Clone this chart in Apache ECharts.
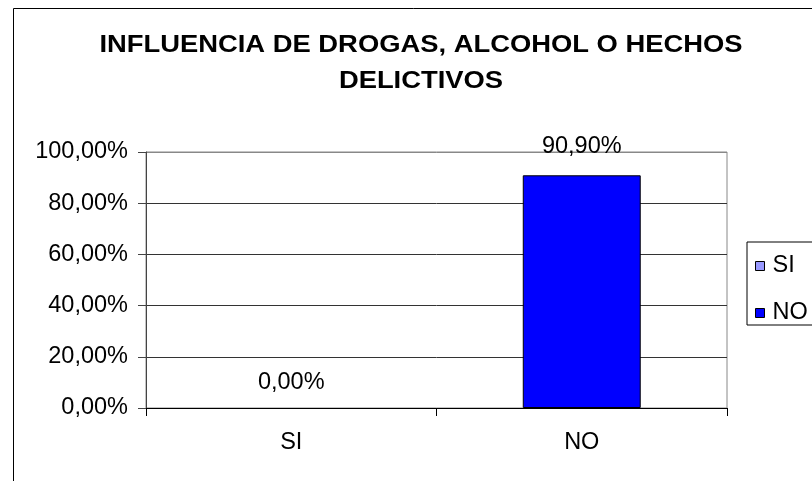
<!DOCTYPE html>
<html>
<head>
<meta charset="utf-8">
<script src="https://cdn.jsdelivr.net/npm/echarts@6/dist/echarts.min.js"></script>
<style>html,body{margin:0;padding:0;background:#fff;}#c{width:812px;height:481px;}</style>
</head>
<body>
<div id="c"></div>
<script>
const titleText = 'INFLUENCIA DE DROGAS, ALCOHOL O HECHOS\nDELICTIVOS';
const categories = ['SI', 'NO'];
const seriesNames = ['SI', 'NO'];
const siValues = [0, '-'];
const noValues = ['-', 0.909];
const yTicks = [0, 0.2, 0.4, 0.6, 0.8, 1.0];

const fmt = v => (v * 100).toFixed(2).replace('.', ',') + '%';
const font = 'Liberation Sans, Arial, sans-serif';
const fs = 23.5;

const chart = echarts.init(document.getElementById('c'));
chart.setOption({
  animation: false,
  backgroundColor: '#fff',
  graphic: [{
    type: 'rect', left: 11, top: 6, shape: { width: 1000, height: 1000 },
    style: { fill: 'none', stroke: '#000', lineWidth: 1 }, z: -1
  }, {
    type: 'text', x: 421, y: 27, scaleX: 1.19,
    style: {
      text: titleText, font: 'bold 23px Liberation Sans, Arial, sans-serif',
      fill: '#000', textAlign: 'center', textVerticalAlign: 'top', lineHeight: 36.6
    }
  }],
  legend: {
    data: seriesNames, orient: 'vertical', left: 747, top: 242,
    borderColor: '#000', borderWidth: 1, padding: [12, 40, 0, 8],
    itemWidth: 9, itemHeight: 9, itemGap: 23, icon: 'rect',
    itemStyle: { borderColor: '#000', borderWidth: 1 },
    textStyle: { fontFamily: font, fontSize: fs, color: '#000', lineHeight: 16, padding: [0, 0, 0, 3] }
  },
  grid: { left: 146, right: 85, top: 152, bottom: 73, show: true, borderColor: '#888', borderWidth: 1 },
  xAxis: {
    type: 'category', data: categories,
    axisLine: { lineStyle: { color: '#000' } },
    axisTick: { show: true, length: 8, lineStyle: { color: '#000' } },
    axisLabel: { fontFamily: font, fontSize: fs, color: '#000', margin: 23 }
  },
  yAxis: {
    type: 'value', min: 0, max: 1, interval: 0.2,
    axisLine: { show: true, lineStyle: { color: '#444' } },
    axisTick: { show: true, length: 8, lineStyle: { color: '#444' } },
    axisLabel: { fontFamily: font, fontSize: fs, color: '#000', margin: 18, formatter: fmt },
    splitLine: { lineStyle: { color: ['#333', '#333', '#333', '#333', '#333', '#888'] } }
  },
  series: [{
    name: seriesNames[0], type: 'bar', stack: 't', data: siValues, barWidth: '40.6%',
    itemStyle: { color: '#9999FF', borderColor: '#000', borderWidth: 0 },
    label: { show: true, position: 'top', distance: 13.5, formatter: p => fmt(p.value), fontFamily: font, fontSize: fs, color: '#000' }
  }, {
    name: seriesNames[1], type: 'bar', stack: 't', data: noValues, barWidth: '40.6%',
    itemStyle: { color: '#0000FF', borderColor: '#000', borderWidth: 1 },
    label: { show: true, position: 'top', distance: 17, formatter: p => fmt(p.value), fontFamily: font, fontSize: fs, color: '#000' }
  }]
});
</script>
</body>
</html>
